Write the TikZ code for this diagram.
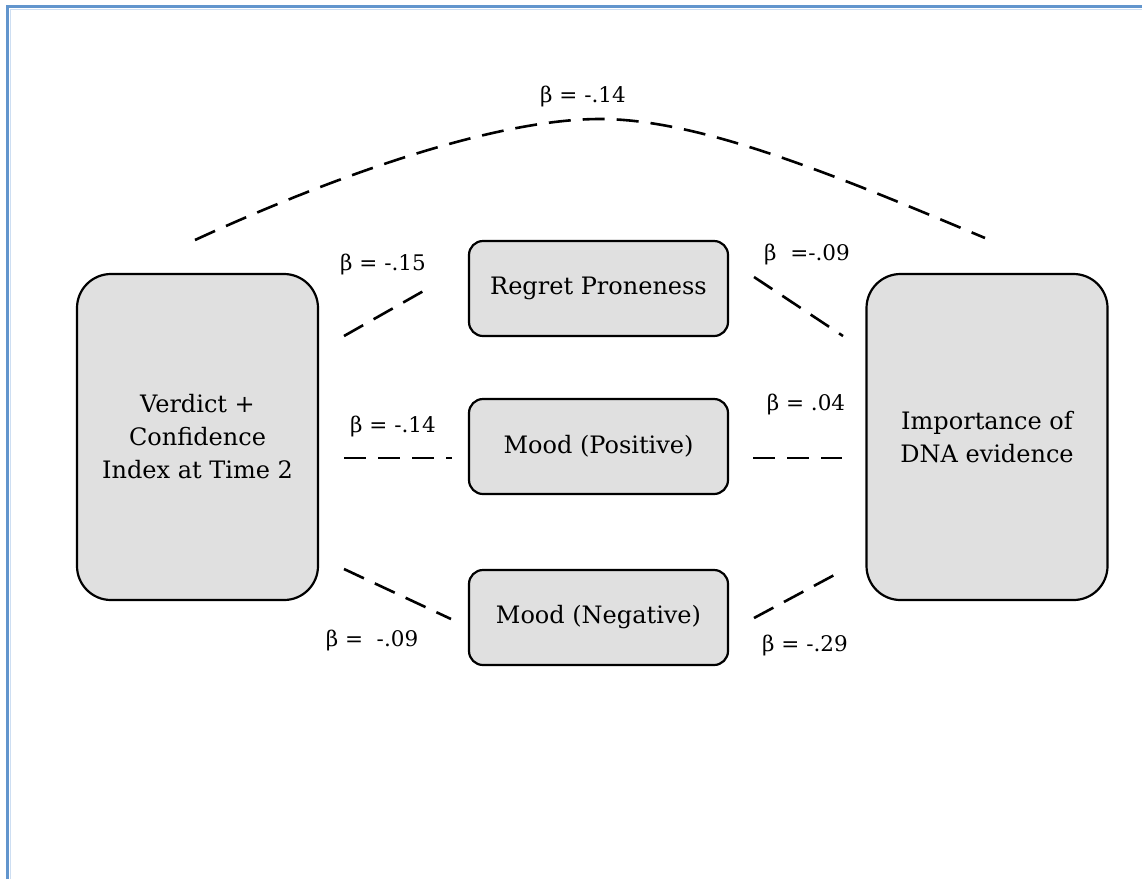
\documentclass[tikz,border=0pt]{standalone}
\usepackage{fontspec}
\setmainfont{DejaVu Serif}
\definecolor{bordblue}{RGB}{98,149,205}
\definecolor{bordlight}{RGB}{205,222,242}
\definecolor{boxgray}{RGB}{224,224,224}
\tikzset{
  bigbox/.style={draw=black, line width=2.2pt, fill=boxgray, rounded corners=34pt, minimum width=241pt, minimum height=326pt, inner sep=0pt, align=center, font=\fontsize{24}{33}\selectfont},
  smallbox/.style={draw=black, line width=2.2pt, fill=boxgray, rounded corners=14pt, minimum width=259pt, minimum height=95pt, inner sep=0pt, align=center, font=\fontsize{24}{33}\selectfont},
  beta/.style={inner sep=0pt, font=\fontsize{21.5}{24}\selectfont},
  dashline/.style={line width=2.6pt, dash pattern=on 22pt off 12pt}
}
\begin{document}
\begin{tikzpicture}[x=1pt,y=-1pt]
\useasboundingbox (0,0) rectangle (1142,879);
\fill[white] (0,0) rectangle (1142,879);
% page border
\draw[bordlight, line width=1pt] (10.5,879) -- (10.5,9.5) -- (1142,9.5);
\draw[bordblue, line width=3.2pt] (7.5,879) -- (7.5,6.5) -- (1142,6.5);
% boxes
\node[bigbox] (vc) at (197.5,437) {Verdict +\\Confidence\\Index at Time 2};
\node[bigbox] (dna) at (987,437) {Importance of\\DNA evidence};
\node[smallbox] (rp) at (598.5,288.5) {Regret Proneness};
\node[smallbox] (mp) at (598.5,446.5) {Mood (Positive)};
\node[smallbox] (mn) at (598.5,617.5) {Mood (Negative)};
% dashed path endpoints
\coordinate (t0) at (195,240);
\coordinate (tp) at (600,119);
\coordinate (t1) at (985,238);
\coordinate (a0) at (344,336);
\coordinate (a1) at (427,289);
\coordinate (b0) at (754,277);
\coordinate (b1) at (843,336);
\coordinate (c0) at (344,458);
\coordinate (c1) at (452,458);
\coordinate (d0) at (753,458);
\coordinate (d1) at (842,458);
\coordinate (e0) at (344,569);
\coordinate (e1) at (451,619);
\coordinate (f0) at (754,618);
\coordinate (f1) at (838,573);
\draw[dashline] (t0) .. controls (345,171) and (500,119) .. (tp) .. controls (700,119) and (835,175) .. (t1);
\draw[dashline] (a0) -- (a1);
\draw[dashline] (b0) -- (b1);
\draw[dashline] (c0) -- (c1);
\draw[dashline] (d0) -- (d1);
\draw[dashline] (e0) -- (e1);
\draw[dashline] (f0) -- (f1);
% labels
\node[beta] (lt) at (583,97) {β = -.14};
\node[beta] (la) at (383,265) {β = -.15};
\node[beta] (lb) at (807,255) {β\ \ =-.09};
\node[beta] (lc) at (393,426) {β = -.14};
\node[beta] (ld) at (806,405) {β = .04};
\node[beta] (le) at (372,640) {β =\ \ -.09};
\node[beta] (lf) at (805,645) {β = -.29};
\end{tikzpicture}
\end{document}
